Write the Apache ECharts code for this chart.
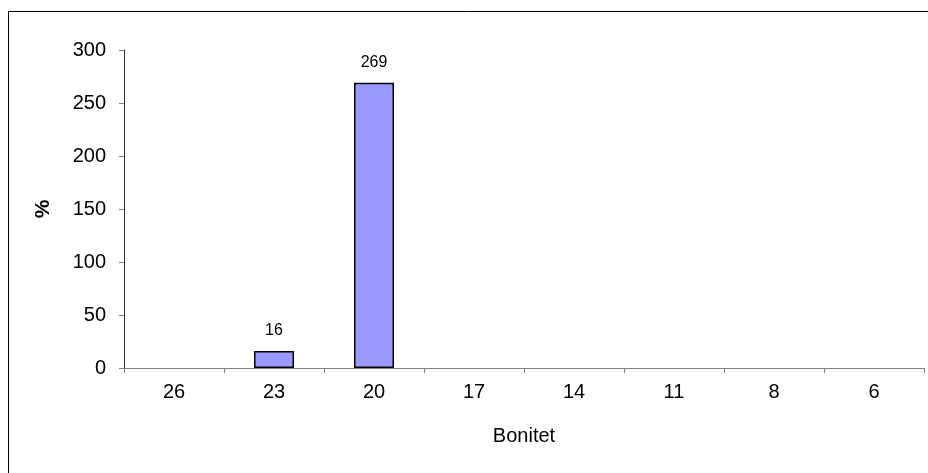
<!DOCTYPE html>
<html>
<head>
<meta charset="utf-8">
<script src="https://cdn.jsdelivr.net/npm/echarts@6/dist/echarts.min.js"></script>
<style>
html,body{margin:0;padding:0;background:#fff;}
#c{width:928px;height:473px;}
</style>
</head>
<body>
<div id="c"></div>
<script>
var categories = ['26', '23', '20', '17', '14', '11', '8', '6'];
var values = [0, 16, 269, 0, 0, 0, 0, 0];
var yTicks = [0, 50, 100, 150, 200, 250, 300];

var chart = echarts.init(document.getElementById('c'), null, {renderer: 'canvas'});
var font = 'Liberation Sans, Arial, sans-serif';
var seriesData = values.map(function (v) {
  return v === 0 ? {value: v, itemStyle: {borderWidth: 0}} : v;
});
chart.setOption({
  animation: false,
  backgroundColor: '#fff',
  graphic: [{
    type: 'rect',
    shape: {x: 8.5, y: 11.5, width: 940, height: 480},
    style: {fill: 'none', stroke: '#000', lineWidth: 1}
  }],
  grid: {left: 124, right: 4, top: 50, bottom: 105, containLabel: false},
  xAxis: {
    type: 'category',
    data: categories,
    name: 'Bonitet',
    nameLocation: 'middle',
    nameGap: 58,
    nameTextStyle: {fontFamily: font, fontSize: 20, color: '#000'},
    axisLine: {lineStyle: {color: '#808080', width: 1}},
    axisTick: {show: true, alignWithLabel: false, length: 5, lineStyle: {color: '#808080'}},
    axisLabel: {fontFamily: font, fontSize: 20, color: '#000', margin: 14}
  },
  yAxis: {
    type: 'value',
    min: yTicks[0],
    max: yTicks[yTicks.length - 1],
    interval: 50,
    name: '%',
    nameLocation: 'middle',
    nameGap: 70,
    nameRotate: 90,
    nameTextStyle: {fontFamily: font, fontSize: 21, fontWeight: 'bold', color: '#000'},
    axisLine: {show: true, lineStyle: {color: '#333', width: 1}},
    axisTick: {show: true, length: 5, lineStyle: {color: '#808080'}},
    splitLine: {show: false},
    axisLabel: {fontFamily: font, fontSize: 20, color: '#000', margin: 18}
  },
  series: [{
    type: 'bar',
    data: seriesData,
    barWidth: '40%',
    itemStyle: {color: '#9999FF', borderColor: '#000', borderWidth: 1.5},
    label: {
      show: true,
      position: 'top',
      distance: 12,
      fontFamily: font,
      fontSize: 16,
      color: '#000',
      formatter: function (p) { return p.value > 0 ? String(p.value) : ''; }
    }
  }]
});
</script>
</body>
</html>
